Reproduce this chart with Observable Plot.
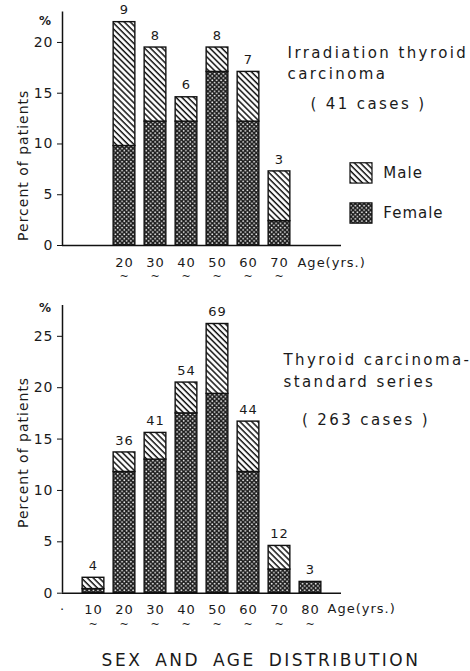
<!DOCTYPE html>
<html>
<head>
<meta charset="utf-8">
<script src="https://cdn.jsdelivr.net/npm/d3@7"></script>
<script src="https://cdn.jsdelivr.net/npm/@observablehq/plot@0.6"></script>
<style>
  body { margin: 0; background: #ffffff; width: 470px; font-family: "DejaVu Sans", sans-serif; }
  svg { display: block; }
  #title { font-family: "DejaVu Sans", sans-serif; font-size: 17px; letter-spacing: 2.5px; word-spacing: 5px;
           color: #1a1a1a; text-align: center; padding-left: 52px; margin-top: 15px; }
</style>
</head>
<body>
<svg width="0" height="0" style="position:absolute">
  <defs>
    <pattern id="hatch" patternUnits="userSpaceOnUse" width="4.2" height="4.2" patternTransform="rotate(-45)">
      <rect width="4.2" height="4.2" fill="#ffffff"/>
      <line x1="1" y1="0" x2="1" y2="4.2" stroke="#111" stroke-width="1.5"/>
    </pattern>
    <pattern id="dots" patternUnits="userSpaceOnUse" width="4.4" height="4.4">
      <rect width="4.4" height="4.4" fill="#1c1c1c"/>
      <circle cx="1.1" cy="1.1" r="0.9" fill="#f2f2f2"/>
      <circle cx="3.3" cy="3.3" r="0.9" fill="#f2f2f2"/>
    </pattern>
  </defs>
</svg>
<div id="chart"></div>
<div id="title">SEX AND AGE DISTRIBUTION</div>
<script>
// ---- data ----
const sexes = ["Female", "Male"];
const patterns = ["url(#dots)", "url(#hatch)"];
const legendItems = ["Male", "Female"];

// Irradiation thyroid carcinoma (41 cases)
const topAges = [20, 30, 40, 50, 60, 70];
const topCounts = [9, 8, 6, 8, 7, 3];
const topFemale = [9.8, 12.2, 12.2, 17.1, 12.2, 2.4];
const topMale = [12.2, 7.3, 2.4, 2.4, 4.9, 4.9];
const topXTicks = [20, 30, 40, 50, 60, 70];
const topYTicks = [0, 5, 10, 15, 20];
const topNotes = ["Irradiation thyroid", "carcinoma", "( 41 cases )"];

// Thyroid carcinoma - standard series (263 cases)
const botAges = [10, 20, 30, 40, 50, 60, 70, 80];
const botCounts = [4, 36, 41, 54, 69, 44, 12, 3];
const botFemale = [0.4, 11.8, 13.0, 17.5, 19.4, 11.8, 2.3, 1.1];
const botMale = [1.1, 1.9, 2.6, 3.0, 6.8, 4.9, 2.3, 0];
const botXTicks = [0, 10, 20, 30, 40, 50, 60, 70, 80];
const botYTicks = [0, 5, 10, 15, 20, 25];
const botNotes = ["Thyroid carcinoma-", "standard series", "( 263 cases )"];

const yLabel = "Percent of patients";
const xLabel = "Age(yrs.)";

const ink = "#1a1a1a";

function chart(o) {
  const rows = o.ages.flatMap((a, i) => [
    {age: a, sex: "Female", v: o.female[i]},
    {age: a, sex: "Male", v: o.male[i]}
  ]);
  const totals = o.ages.map((a, i) => ({age: a, total: o.female[i] + o.male[i], n: String(o.counts[i])}));
  const tildeTicks = o.xTicks.filter(d => d !== 0);
  const marks = [
    Plot.rectY(rows, {x1: d => d.age - 3.5, x2: d => d.age + 3.5, y: "v", fill: "sex",
                      stroke: "#111", strokeWidth: 1.4}),
    Plot.ruleX([0], {y1: 0, y2: o.yDomain[1], stroke: "#111", strokeWidth: 1.5}),
    Plot.ruleY([0], {x1: 0, x2: 90, stroke: "#111", strokeWidth: 1.5}),
    Plot.axisY({ticks: o.yTicks, tickSize: 5, tickPadding: 4, fontSize: 14, label: null, stroke: "#111"}),
    Plot.axisX({ticks: o.xTicks, tickSize: 0, tickPadding: 12, fontSize: 13, label: null,
                tickFormat: d => d === 0 ? "·" : String(d)}),
    Plot.text(tildeTicks, {x: d => d, y: 0, dy: 31, text: () => "~", fontSize: 11, fill: ink}),
    Plot.text(totals, {x: "age", y: "total", text: "n", dy: -12, fontSize: 13, fill: ink}),
    Plot.text(["%"], {x: -5.5, y: o.pctY, text: d => d, fontSize: 12, fontWeight: "bold", fill: ink}),
    Plot.text([yLabel], {x: -12.6, y: o.ylabY, text: d => d, rotate: -90, fontSize: 14, fill: ink}),
    Plot.text([xLabel], {x: o.ageX, y: o.ageY, text: d => d, textAnchor: "start", fontSize: 13, fill: ink}),
    Plot.text([o.notes[0]], {x: o.n1x, y: o.n1y, text: d => d, textAnchor: "start", fontSize: 15, fill: ink}),
    Plot.text([o.notes[1]], {x: o.n1x, y: o.n2y, text: d => d, textAnchor: "start", fontSize: 15, fill: ink}),
    Plot.text([o.notes[2]], {x: o.n3x, y: o.n3y, text: d => d, fontSize: 15, fill: ink})
  ];
  if (o.legend) {
    marks.push(
      Plot.rect(legendItems, {x1: 92.9, x2: 100, y1: (d, i) => 8.1 - i * 3.95, y2: (d, i) => 6.1 - i * 3.95,
                              fill: d => d, stroke: "#111", strokeWidth: 1.2}),
      Plot.text(legendItems, {x: 103.5, y: (d, i) => 7.1 - i * 3.95, text: d => d, textAnchor: "start",
                              fontSize: 15, fill: ink})
    );
  }
  const svg = Plot.plot({
    width: 470, height: o.height,
    marginLeft: 62, marginRight: 129, marginTop: o.marginTop, marginBottom: o.marginBottom,
    style: {fontFamily: "DejaVu Sans, sans-serif", color: ink, background: "transparent", letterSpacing: "1px"},
    x: {domain: [0, 90]},
    y: {domain: o.yDomain},
    color: {domain: sexes, range: patterns},
    marks
  });
  // wider letter spacing for the typed annotations, as in the original figure
  const noteSet = new Set(o.notes);
  d3.select(svg).selectAll("text")
    .filter(function () { return noteSet.has(this.textContent); })
    .attr("letter-spacing", "2.4px");
  return svg;
}

const host = document.getElementById("chart");
host.appendChild(chart({
  ages: topAges, counts: topCounts, female: topFemale, male: topMale,
  xTicks: topXTicks, yTicks: topYTicks, yDomain: [0, 23],
  height: 290, marginTop: 11.5, marginBottom: 45,
  pctY: 22.1, ylabY: 7.9, ageX: 75.8, ageY: -1.67,
  notes: topNotes, n1x: 72.6, n1y: 18.9, n2y: 16.85, n3x: 98.7, n3y: 13.9,
  legend: true
}));
host.appendChild(chart({
  ages: botAges, counts: botCounts, female: botFemale, male: botMale,
  xTicks: botXTicks, yTicks: botYTicks, yDomain: [0, 28],
  height: 345, marginTop: 15, marginBottom: 42.3,
  pctY: 27.7, ylabY: 13.7, ageX: 85.5, ageY: -1.49,
  notes: botNotes, n1x: 71.3, n1y: 22.66, n2y: 20.5, n3x: 97.9, n3y: 16.8,
  legend: false
}));
</script>
</body>
</html>
